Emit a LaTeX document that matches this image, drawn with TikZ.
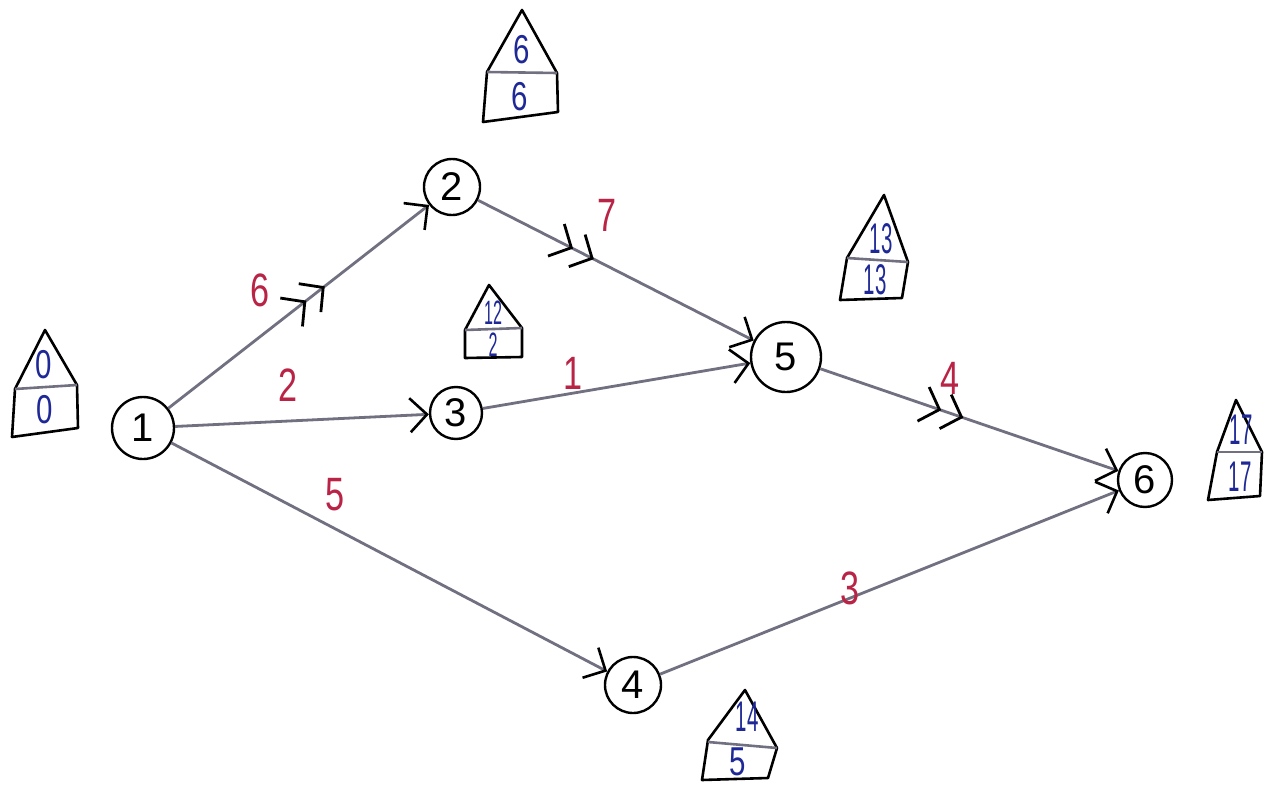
\documentclass[tikz,border=0pt]{standalone}
\usepackage{fontspec}
\setmainfont{Liberation Sans}
\usepackage{graphicx}
\usetikzlibrary{arrows.meta,decorations.markings}
\definecolor{edgegray}{RGB}{112,112,128}
\definecolor{lblred}{RGB}{185,35,70}
\definecolor{numblue}{RGB}{30,40,150}
\newcommand{\hdA}[1]{\scalebox{0.95}[1.3]{#1}}
\newcommand{\hdB}[1]{\scalebox{0.62}[1.3]{#1}}
\tikzset{
  state/.style={circle, draw=black, line width=2.4pt, inner sep=0pt, fill=white,
    font=\fontsize{40}{40}\selectfont},
  edge/.style={draw=edgegray, line width=2.8pt,
    -{Straight Barb[length=17pt,width=34pt,line width=2.6pt,color=black]}},
  crit/.style={edge, postaction={decorate}, decoration={markings,
    mark=at position #1 with {\arrow{Straight Barb[length=17pt,width=36pt,line width=2.8pt,color=black,sep=3pt]Straight Barb[length=17pt,width=36pt,line width=2.8pt,color=black]}}}},
  lbl/.style={text=lblred, font=\fontsize{36}{36}\selectfont, inner sep=0pt},
  hn/.style={text=numblue, font=\fontsize{31}{31}\selectfont, inner sep=0pt},
  hnB/.style={text=numblue, font=\fontsize{33}{33}\selectfont, inner sep=0pt},
  house/.style={draw=black, line width=2.6pt, line join=round},
  hdiv/.style={draw=edgegray, line width=2.6pt}
}
\begin{document}
\begin{tikzpicture}[x=1pt,y=-1pt]
\useasboundingbox[fill=white] (0,0) rectangle (1270,787);

% nodes
\node[state, minimum size=62pt] (n1) at (143,428) {1};
\node[state, minimum size=56pt] (n2) at (452,187) {2};
\node[state, minimum size=52pt] (n3) at (456,413) {3};
\node[state, minimum size=56pt] (n4) at (633,685) {4};
\node[state, minimum size=70pt] (n5) at (786,357) {5};
\node[state, minimum size=54pt] (n6) at (1145,480) {6};

% edges
\draw[crit=0.6] (n1) -- (n2);
\draw[edge] (n1) -- (n3);
\draw[edge] (n1) -- (n4);
\draw[crit=0.42] (n2) -- (n5);
\draw[edge] (n3) -- (n5);
\draw[crit=0.48] (n5) -- (n6);
\draw[edge] (n4) -- (n6);

% edge labels
\node[lbl] (l12) at (260,290) {\hdA{6}};
\node[lbl] (l13) at (288,385) {\hdA{2}};
\node[lbl] (l14) at (335,495) {\hdA{5}};
\node[lbl] (l25) at (607,215) {\hdA{7}};
\node[lbl] (l35) at (573,373) {\hdA{1}};
\node[lbl] (l56) at (950,378) {\hdA{4}};
\node[lbl] (l46) at (850,588) {\hdA{3}};

% house 0/0
\draw[house] (12,437) -- (15,389) -- (45,330) -- (77,385) -- (78,428) -- cycle;
\draw[hdiv] (15,389) -- (77,385);
\node[hn] (h1a) at (44,365) {\hdA{0}};
\node[hn] (h1b) at (45,410) {\hdA{0}};

% house 6/6
\draw[house] (483,122) -- (487,72) -- (522,10) -- (557,73) -- (558,112) -- cycle;
\draw[hdiv] (487,72) -- (557,73);
\node[hn] (h2a) at (522,50) {\hdA{6}};
\node[hn] (h2b) at (520,97) {\hdA{6}};

% house 12/2
\draw[house] (465,358) -- (465,330) -- (489,285) -- (522,328) -- (522,357) -- cycle;
\draw[hdiv] (465,330) -- (522,328);
\node[hnB, font=\fontsize{26}{26}\selectfont] (h3a) at (493,313) {\hdB{12}};
\node[hnB, font=\fontsize{26}{26}\selectfont] (h3b) at (493,345) {\hdB{2}};

% house 13/13
\draw[house] (840,300) -- (847,258) -- (884,195) -- (908,262) -- (902,298) -- cycle;
\draw[hdiv] (847,258) -- (908,262);
\node[hnB] (h5a) at (881,239) {\hdB{13}};
\node[hnB] (h5b) at (875,280) {\hdB{13}};

% house 17/17
\draw[house] (1208,500) -- (1217,452) -- (1236,400) -- (1262,452) -- (1260,496) -- cycle;
\draw[hdiv] (1217,452) -- (1262,452);
\node[hnB] (h6a) at (1241,430) {\hdB{17}};
\node[hnB] (h6b) at (1240,477) {\hdB{17}};

% house 14/5
\draw[house] (702,780) -- (708,740) -- (745,690) -- (777,748) -- (768,778) -- cycle;
\draw[hdiv] (708,742) -- (777,748);
\node[hnB] (h4a) at (747,717) {\hdB{14}};
\node[hn] (h4b) at (738,762) {\hdA{5}};
\end{tikzpicture}
\end{document}
